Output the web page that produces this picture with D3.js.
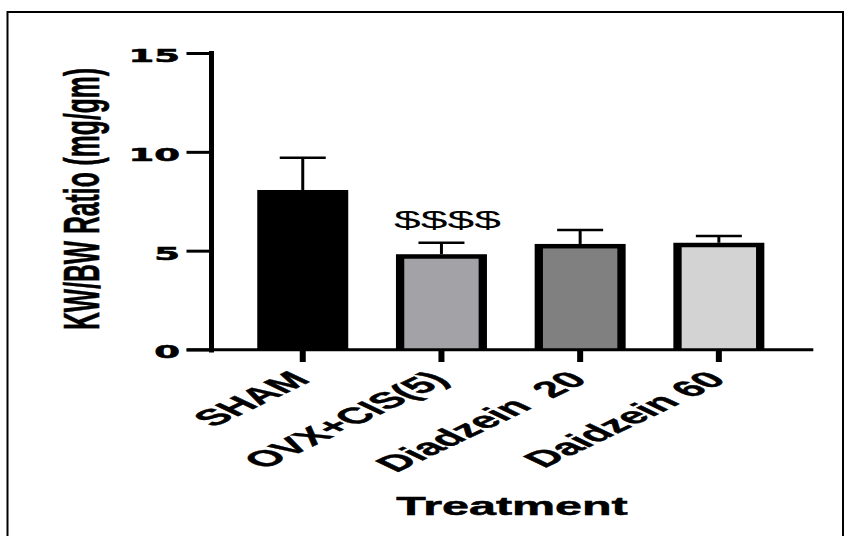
<!DOCTYPE html>
<html>
<head>
<meta charset="utf-8">
<script src="https://cdn.jsdelivr.net/npm/d3@7"></script>
<style>
  html, body { margin: 0; padding: 0; background: #fff; }
  svg { display: block; }
</style>
</head>
<body>
<script>
// ---- data ----
const categories = ["SHAM", "OVX+CIS(5)", "Diadzein  20", "Daidzein 60"];
const means      = [8.07, 4.82, 5.34, 5.40];
const errors     = [1.63, 0.58, 0.70, 0.34];
const fills      = ["#000000", "#a3a2a7", "#808080", "#d3d3d3"];
const yTicks     = [0, 5, 10, 15];
const yLabel     = "KW/BW Ratio (mg/gm)";
const xLabel     = "Treatment";
const sigLabels  = ["", "$$$$", "", ""];

const W = 853, H = 536;
const svg = d3.select("body").append("svg").attr("width", W).attr("height", H);

// frame
svg.append("rect").attr("x", 7.5).attr("y", 12).attr("width", 835.5).attr("height", 540)
  .attr("fill", "none").attr("stroke", "#000").attr("stroke-width", 2);

const y = d3.scaleLinear().domain([0, 15]).range([349.5, 53]);
const x = d3.scaleBand().domain(categories).range([233.4, 788.2])
  .paddingInner(0.344).paddingOuter(0.172);

const SX = 2.0; // horizontal stretch of the original figure

// error bars
const data = categories.map((c, i) => ({ c, m: means[i], e: errors[i], f: fills[i], s: sigLabels[i] }));
const eg = svg.append("g");
eg.selectAll("line.stem").data(data).join("line")
  .attr("x1", d => x(d.c) + x.bandwidth() / 2).attr("x2", d => x(d.c) + x.bandwidth() / 2)
  .attr("y1", d => y(d.m)).attr("y2", d => y(d.m + d.e))
  .attr("stroke", "#000").attr("stroke-width", 3);
eg.selectAll("line.cap").data(data).join("line")
  .attr("x1", d => x(d.c) + x.bandwidth() / 2 - 23).attr("x2", d => x(d.c) + x.bandwidth() / 2 + 23)
  .attr("y1", d => y(d.m + d.e)).attr("y2", d => y(d.m + d.e))
  .attr("stroke", "#000").attr("stroke-width", 2.5);

// bars: black outline rect + inner fill
const bg = svg.append("g");
bg.selectAll("rect.outer").data(data).join("rect")
  .attr("x", d => x(d.c)).attr("y", d => y(d.m))
  .attr("width", x.bandwidth()).attr("height", d => y(0) - y(d.m))
  .attr("fill", "#000");
bg.selectAll("rect.inner").data(data).join("rect")
  .attr("x", d => x(d.c) + 8.3).attr("y", d => y(d.m) + 4.5)
  .attr("width", x.bandwidth() - 16.6).attr("height", d => y(0) - y(d.m) - 4.5)
  .attr("fill", d => d.f);

// significance labels
svg.append("g").selectAll("text").data(data.filter(d => d.s)).join("text")
  .attr("transform", d => `translate(${x(d.c) + x.bandwidth() / 2 + 6},${227.5}) scale(${SX},1)`)
  .attr("text-anchor", "middle")
  .attr("font-family", "'Liberation Sans', Arial, sans-serif")
  .attr("font-size", 24)
  .text(d => d.s);

// y axis
const yAxis = svg.append("g").attr("transform", "translate(211,0)")
  .call(d3.axisLeft(y).tickValues(yTicks).tickSize(24.5).tickSizeOuter(0).tickFormat(d3.format("d")));
yAxis.select(".domain").attr("stroke-width", 5).attr("stroke-linecap", "square");
yAxis.selectAll(".tick line").attr("stroke-width", 3);
yAxis.selectAll(".tick text")
  .attr("x", null).attr("dy", null).attr("y", null)
  .attr("transform", "translate(-31,8.4) scale(2,1)")
  .attr("text-anchor", "end")
  .attr("font-family", "'DejaVu Sans', sans-serif")
  .attr("font-weight", "bold")
  .attr("font-size", 18.5)
  .attr("fill", "#000")
  .attr("stroke", "#000").attr("stroke-width", 0.6);

// x axis
svg.append("line").attr("x1", 186.7).attr("x2", 813.3).attr("y1", 349.7).attr("y2", 349.7)
  .attr("stroke", "#000").attr("stroke-width", 3);
const xAxis = svg.append("g").attr("transform", "translate(0,349.5)")
  .call(d3.axisBottom(x).tickSize(12.5).tickSizeOuter(0).tickFormat(""));
xAxis.select(".domain").remove();
xAxis.selectAll(".tick line").attr("stroke-width", 6);

// x tick labels
svg.append("g").selectAll("text").data(categories).join("text")
  .attr("transform", c => `translate(${x(c) + x.bandwidth() / 2 + 9},381) scale(2.1,1) rotate(-45)`)
  .attr("text-anchor", "end")
  .attr("font-family", "'Liberation Sans', Arial, sans-serif")
  .attr("font-weight", "bold")
  .attr("font-size", 22.5)
  .attr("stroke", "#000").attr("stroke-width", 0.4)
  .style("white-space", "pre")
  .attr("xml:space", "preserve")
  .text(c => c);

// axis titles
svg.append("text")
  .attr("transform", "translate(512,515) scale(1.9,1)")
  .attr("text-anchor", "middle")
  .attr("font-family", "'Liberation Sans', Arial, sans-serif")
  .attr("font-weight", "bold")
  .attr("font-size", 25.5)
  .attr("stroke", "#000").attr("stroke-width", 0.5)
  .text(xLabel);

svg.append("text")
  .attr("transform", "translate(99,199) scale(2,1) rotate(-90)")
  .attr("text-anchor", "middle")
  .attr("font-family", "'Liberation Sans', Arial, sans-serif")
  .attr("font-weight", "bold")
  .attr("font-size", 24.7)
  .attr("stroke", "#000").attr("stroke-width", 0.3)
  .text(yLabel);
</script>
</body>
</html>
